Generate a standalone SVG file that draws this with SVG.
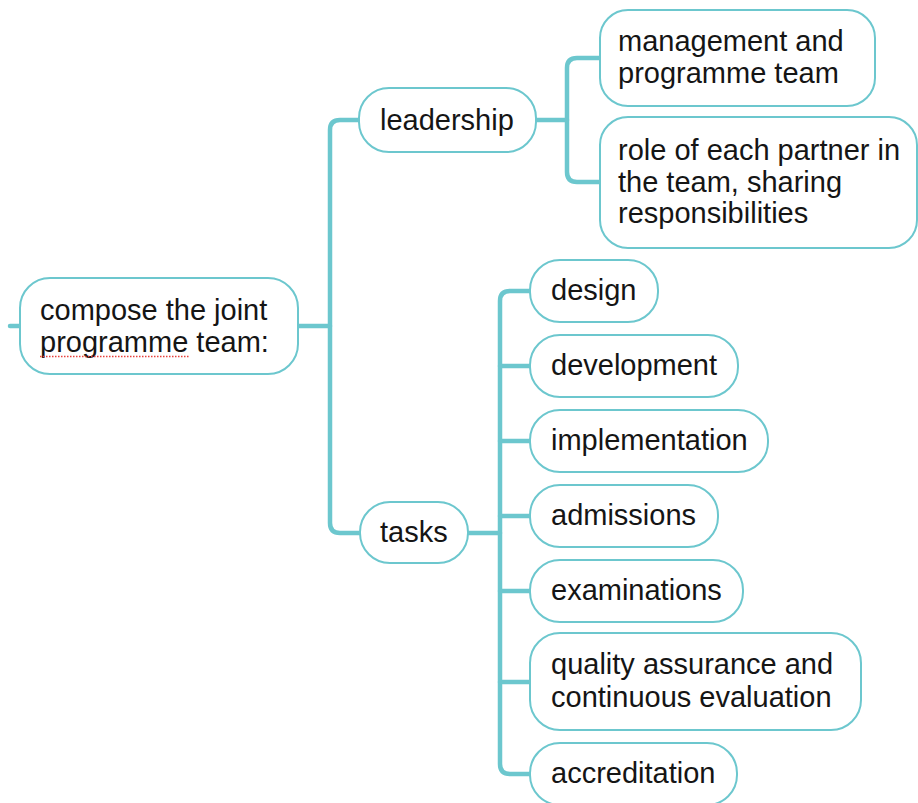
<svg xmlns="http://www.w3.org/2000/svg" width="918" height="803" viewBox="0 0 918 803">
  <style>
    .node rect { fill: #ffffff; stroke: #6cc7ce; stroke-width: 2; }
    .node text { font-family: "Liberation Sans", Arial, sans-serif; font-size: 29px; fill: #151515; }
    .link { fill: none; stroke: #6cc7ce; stroke-width: 4.5; stroke-linecap: round; stroke-linejoin: round; }
    .spell { fill: none; stroke: #e8413c; stroke-width: 1.5; stroke-dasharray: 1.5 1.5; }
  </style>
  <rect width="918" height="803" fill="#ffffff"/>

  <!-- connectors -->
  <g id="connectors">
    <path class="link" d="M10,326 H20"/>
    <path class="link" d="M298,326 H330"/>
    <path class="link" d="M359,120 H340 Q330,120 330,130 V523 Q330,533 340,533 H360"/>
    <path class="link" d="M536,120 H567"/>
    <path class="link" d="M600,58 H577 Q567,58 567,68 V172 Q567,182 577,182 H600"/>
    <path class="link" d="M468,533 H500"/>
    <path class="link" d="M530,291 H510 Q500,291 500,301 V764 Q500,774 510,774 H530"/>
    <path class="link" d="M500,366 H530"/>
    <path class="link" d="M500,441 H530"/>
    <path class="link" d="M500,516 H530"/>
    <path class="link" d="M500,591 H530"/>
    <path class="link" d="M500,682 H530"/>
  </g>

  <g id="root" class="node">
    <rect x="20" y="278" width="278" height="96" rx="30"/>
    <text x="40" y="320">compose the joint</text>
    <text x="40" y="352">programme team:</text>
    <path class="spell" d="M40,356.5 H189"/>
  </g>

  <g id="leadership" class="node">
    <rect x="359" y="88" width="177" height="64" rx="30"/>
    <text x="380" y="130">leadership</text>
  </g>

  <g id="management" class="node">
    <rect x="600" y="10" width="275" height="96" rx="28"/>
    <text x="618" y="51">management and</text>
    <text x="618" y="83">programme team</text>
  </g>

  <g id="partner-roles" class="node">
    <rect x="600" y="117" width="317" height="131" rx="28"/>
    <text x="618" y="160">role of each partner in</text>
    <text x="618" y="192">the team, sharing</text>
    <text x="618" y="223">responsibilities</text>
  </g>

  <g id="tasks" class="node">
    <rect x="360" y="502" width="108" height="61" rx="30"/>
    <text x="380" y="542">tasks</text>
  </g>

  <g id="design" class="node">
    <rect x="530" y="260" width="128" height="62" rx="30"/>
    <text x="551" y="300">design</text>
  </g>

  <g id="development" class="node">
    <rect x="530" y="335" width="208" height="62" rx="30"/>
    <text x="551" y="375">development</text>
  </g>

  <g id="implementation" class="node">
    <rect x="530" y="410" width="238" height="62" rx="30"/>
    <text x="551" y="450">implementation</text>
  </g>

  <g id="admissions" class="node">
    <rect x="530" y="485" width="188" height="62" rx="30"/>
    <text x="551" y="525">admissions</text>
  </g>

  <g id="examinations" class="node">
    <rect x="530" y="560" width="213" height="62" rx="30"/>
    <text x="551" y="600">examinations</text>
  </g>

  <g id="quality" class="node">
    <rect x="530" y="633" width="331" height="97" rx="30"/>
    <text x="551" y="674">quality assurance and</text>
    <text x="551" y="707">continuous evaluation</text>
  </g>

  <g id="accreditation" class="node">
    <rect x="530" y="743" width="207" height="62" rx="30"/>
    <text x="551" y="783">accreditation</text>
  </g>
</svg>
